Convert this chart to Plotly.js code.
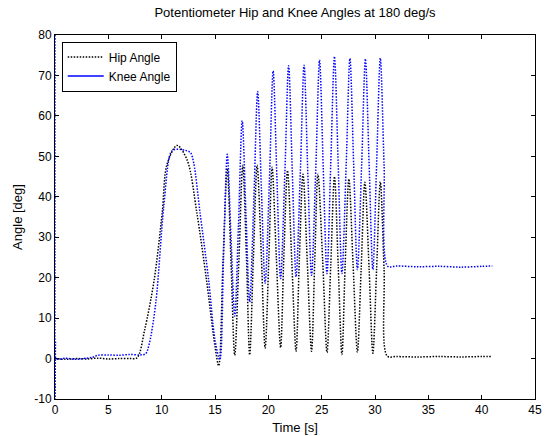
<!DOCTYPE html>
<html>
<head>
<meta charset="utf-8">
<script src="https://cdn.plot.ly/plotly-3.0.1.min.js"></script>
<style>html,body{margin:0;padding:0;background:#fff;}#chart{width:546px;height:436px;}</style>
</head>
<body>
<div id="chart"></div>
<script>
var xTicks = [0, 5, 10, 15, 20, 25, 30, 35, 40, 45];
var yTicks = [-10, 0, 10, 20, 30, 40, 50, 60, 70, 80];

var hipTime = [0, 1, 2, 3, 4, 5, 6, 7, 7.7, 8.4, 9.3, 10.05, 10.5, 11.45, 12.4, 13.3, 14.2, 15.0, 15.35, 15.75, 16.15, 16.5, 16.85, 17.25, 17.6, 17.95, 18.25, 18.6, 18.95, 19.35, 19.7, 20.05, 20.35, 20.75, 21.15, 21.45, 21.8, 22.2, 22.6, 22.9, 23.25, 23.65, 24.05, 24.35, 24.65, 25.1, 25.5, 25.85, 26.2, 26.55, 26.9, 27.2, 27.55, 27.95, 28.35, 28.7, 29.05, 29.45, 29.8, 30.15, 30.5, 30.85, 31.15, 32, 34, 36, 38, 40, 41];
var hipAngle = [0, -0.2, 0, -0.1, 0.1, -0.1, 0, 0, 0.2, 7, 19.5, 36, 48, 52.7, 49, 36, 19.5, 3, -1.8, 24, 47.0, 24, 0.8, 25, 47.8, 25, 0.9, 25, 47.8, 25, 2.6, 25, 47.3, 25, 2.7, 25, 46.5, 24, 1.8, 24, 45.6, 24, 1.8, 24, 45.6, 24, 1.5, 23, 45.0, 23, 1.0, 23, 44.4, 23, 1.6, 22, 43.6, 22, 1.3, 22, 43.7, 22, 0.6, 0.5, 0.4, 0.5, 0.4, 0.5, 0.5];

var kneeTime = [0, 0.01, 0.05, 0.1, 1, 2, 3, 3.5, 4, 5, 6, 7, 8, 8.5, 8.85, 9.45, 10.2, 10.85, 11.2, 12.2, 12.7, 13.0, 13.6, 14.4, 15.0, 15.45, 15.8, 16.15, 16.5, 16.85, 17.2, 17.55, 17.9, 18.25, 18.65, 19.0, 19.35, 19.7, 20.1, 20.45, 20.8, 21.15, 21.55, 21.9, 22.25, 22.6, 23.0, 23.35, 23.7, 24.05, 24.45, 24.8, 25.15, 25.5, 25.85, 26.2, 26.55, 26.9, 27.3, 27.65, 28.0, 28.35, 28.75, 29.1, 29.45, 29.8, 30.15, 30.5, 30.85, 31.2, 32, 34, 36, 38, 40, 41];
var kneeAngle = [80, -10, 4, 0, 0.1, -0.2, 0.1, 0.3, 0.8, 0.9, 0.8, 1.0, 0.9, 1.2, 3.8, 13.8, 37.7, 50.9, 51.7, 51.5, 50.9, 48.4, 36, 19.5, 4.6, -0.3, 25, 50.5, 30, 10.5, 33, 58.8, 36, 14.0, 40, 66, 42, 18.6, 44, 71.1, 45, 19.8, 46, 72.4, 46, 20.2, 46, 72.5, 46, 20.6, 47, 73.8, 47, 21.0, 48, 74.7, 48, 21.0, 48, 74.2, 48, 22.0, 48, 74.1, 48, 22.0, 48, 74.3, 48, 22.8, 22.9, 22.7, 22.8, 22.6, 22.8, 22.9];

var FONT = 'Liberation Sans, Arial, sans-serif';

var traces = [
  {x: hipTime, y: hipAngle, mode: 'lines', name: 'Hip Angle',
   line: {color: '#000000', width: 1.5, dash: '1.5px,1.5px', shape: 'spline', smoothing: 0.9}},
  {x: kneeTime, y: kneeAngle, mode: 'lines', name: 'Knee Angle', showlegend: false,
   line: {color: '#0000ff', width: 1.5, dash: '1.5px,1.5px', shape: 'spline', smoothing: 0.9}},
  {x: [null], y: [null], mode: 'lines', name: 'Knee Angle',
   line: {color: '#0000ff', width: 1.5}}
];

var axisCommon = {
  showline: true, linecolor: '#000', linewidth: 1, mirror: 'ticks',
  ticks: 'inside', ticklen: 4, tickcolor: '#000', tickwidth: 1,
  showgrid: false, zeroline: false, layer: 'below traces',
  tickfont: {family: FONT, size: 12, color: '#000'}
};

var layout = {
  width: 546, height: 436,
  margin: {l: 55, r: 11, t: 35, b: 37},
  paper_bgcolor: '#fff', plot_bgcolor: '#fff',
  title: {text: 'Potentiometer Hip and Knee Angles at 180 deg/s',
          font: {family: FONT, size: 13, color: '#000'},
          xref: 'paper', x: 0.5, xanchor: 'center', yref: 'container', y: 0.971, yanchor: 'middle'},
  xaxis: Object.assign({}, axisCommon, {range: [0, 45], tickvals: xTicks, ticktext: xTicks.map(String),
          title: {text: 'Time [s]', font: {family: FONT, size: 13, color: '#000'}, standoff: 6}}),
  yaxis: Object.assign({}, axisCommon, {range: [-10, 80], tickvals: yTicks, ticktext: yTicks.map(String),
          title: {text: 'Angle [deg]', font: {family: FONT, size: 13, color: '#000'}, standoff: 8}}),
  showlegend: true,
  legend: {x: 0.014, y: 0.982, xanchor: 'left', yanchor: 'top',
           bgcolor: '#fff', bordercolor: '#000', borderwidth: 1,
           font: {family: FONT, size: 12, color: '#000'},
           tracegroupgap: 0, itemwidth: 36}
};

Plotly.newPlot('chart', traces, layout, {displayModeBar: false, staticPlot: true});
</script>
</body>
</html>
